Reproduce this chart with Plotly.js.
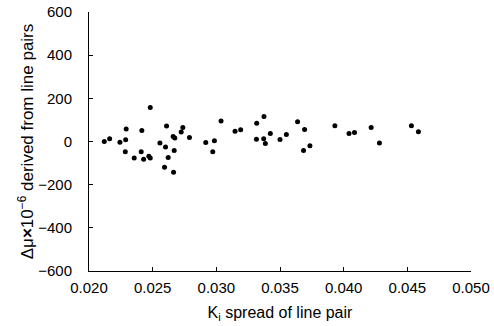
<!DOCTYPE html>
<html>
<head>
<meta charset="utf-8">
<script src="https://cdn.plot.ly/plotly-3.0.1.min.js"></script>
<style>html,body{margin:0;padding:0;background:#fff;}#chart{width:494px;height:326px;}</style>
</head>
<body>
<div id="chart"></div>
<script>
const kiSpread = [0.0212,0.02162,0.02243,0.02288,0.02292,0.02285,0.02355,0.02415,0.0241,0.02429,
  0.02481,0.0247,0.02481,0.02557,0.02601,0.02609,0.02622,0.02593,0.02664,0.02661,
  0.02674,0.02669,0.02724,0.02737,0.02789,0.02917,0.02985,0.02972,0.03037,0.03147,
  0.03191,0.03317,0.03374,0.03315,0.03372,0.03385,0.03424,0.035,0.0355,0.03638,
  0.03693,0.03685,0.03735,0.03931,0.04042,0.04085,0.04216,0.04281,0.04532,0.04587];
const deltaMu = [0,13,-3,8,58,-48,-77,51,-48,-82,
  158,-68,-76,-7,-26,72,-74,-119,-142,23,
  16,-42,44,65,19,-5,3,-48,95,47,
  54,84,116,11,13,-9,37,9,33,92,
  56,-42,-20,73,37,42,65,-7,73,45];
const xTicks = [0.020,0.025,0.030,0.035,0.040,0.045,0.050];
const xTickText = ['0.020','0.025','0.030','0.035','0.040','0.045','0.050'];
const yTicks = [-600,-400,-200,0,200,400,600];
const yTickText = ['\u2212600','\u2212400','\u2212200','0','200','400','600'];

const font = {family:'Liberation Sans, Arial, sans-serif', size:15, color:'#000'};
const xTitleFont = {family:'Liberation Sans, Arial, sans-serif', size:16, color:'#000'};
const yTitleFont = {family:'Liberation Sans, Arial, sans-serif', size:17, color:'#000'};
Plotly.newPlot('chart', [{
  x: kiSpread, y: deltaMu, type:'scatter', mode:'markers',
  marker:{color:'#000', size:5}, hoverinfo:'skip'
}], {
  width:494, height:326,
  margin:{l:89, r:23, t:12, b:55, pad:0},
  paper_bgcolor:'#fff', plot_bgcolor:'#fff',
  font: font,
  showlegend:false,
  xaxis:{
    range:[0.020,0.050], tickvals:xTicks, ticktext:xTickText,
    showgrid:false, zeroline:false, showline:true, linecolor:'#000', linewidth:1,
    ticks:'inside', ticklen:4, tickcolor:'#000', ticklabelstandoff:3,
    title:{text:'K<sub>i</sub> spread of line pair', font:xTitleFont, standoff:11}
  },
  yaxis:{
    range:[-600,600], tickvals:yTicks, ticktext:yTickText,
    showgrid:false, zeroline:false, showline:true, linecolor:'#000', linewidth:1,
    ticks:'inside', ticklen:4, tickcolor:'#000', ticklabelstandoff:13,
    title:{text:'\u0394\u03bc<b>\u00d7</b>10<sup>\u22126</sup> derived from line pairs', font:yTitleFont, standoff:0}
  }
}, {displayModeBar:false, staticPlot:true});
</script>
</body>
</html>
